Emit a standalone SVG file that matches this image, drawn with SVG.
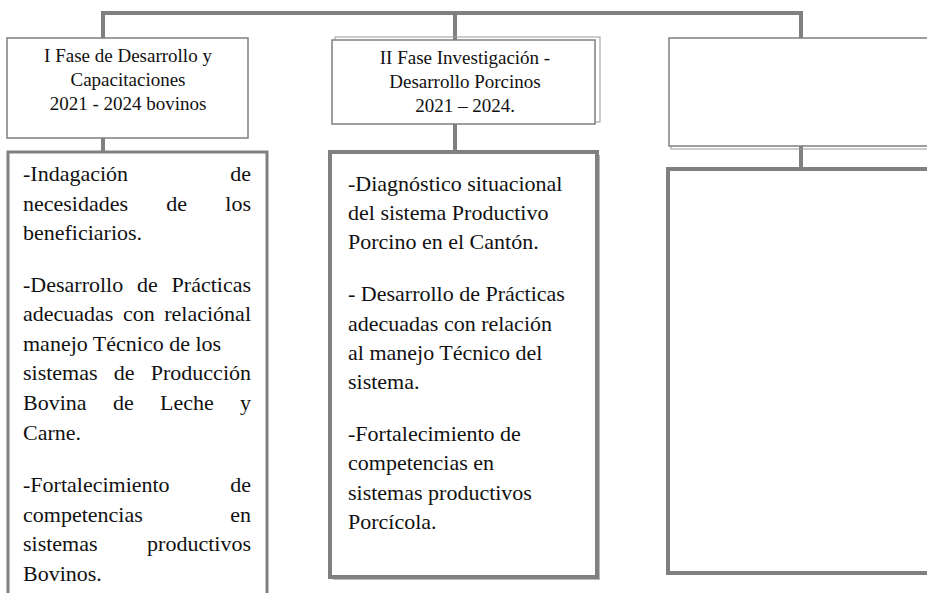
<svg xmlns="http://www.w3.org/2000/svg" width="927" height="593" viewBox="0 0 927 593">
<style>
.conn{stroke:#808080;stroke-width:4;fill:none;stroke-linecap:square}
.thin{fill:#fff;stroke:#7f7f7f;stroke-width:1.5}
.thin2{fill:none;stroke:#9a9a9a;stroke-width:1}
.thick{fill:#fff;stroke:#808080;stroke-width:4}
.hd{font-family:"Liberation Serif","Times New Roman",serif;font-size:19px;fill:#111;text-anchor:middle}
.bd{font-family:"Liberation Serif","Times New Roman",serif;font-size:22px;fill:#111}
.r{text-anchor:end}
</style>
<rect width="927" height="593" fill="#fff"/>
<g id="connectors">
<polyline class="conn" points="103,38 103,13 801,13 801,38"/>
<line class="conn" x1="455" y1="13" x2="455" y2="40"/>
<line class="conn" x1="103" y1="138" x2="103" y2="152"/>
<line class="conn" x1="455" y1="124" x2="455" y2="152"/>
<line class="conn" x1="801" y1="148" x2="801" y2="168"/>
</g>
<g id="header1">
<rect class="thin" x="7" y="38" width="241" height="100"/>
<text class="hd" x="128" y="62">I Fase de Desarrollo y</text>
<text class="hd" x="128" y="86">Capacitaciones</text>
<text class="hd" x="128" y="110">2021 - 2024 bovinos</text>
</g>
<g id="header2">
<rect class="thin2" x="335" y="37" width="265" height="85"/>
<rect class="thin" x="332" y="40" width="263" height="84"/>
<text class="hd" x="465" y="64">II Fase Investigación -</text>
<text class="hd" x="465" y="88">Desarrollo Porcinos</text>
<text class="hd" x="465" y="112">2021 – 2024.</text>
</g>
<g id="header3">
<rect class="thin2" x="671" y="41" width="270" height="108"/>
<rect class="thin" x="669" y="38" width="270" height="108"/>
</g>
<g id="content1">
<rect class="thick" x="8" y="152" width="259" height="460" style="stroke-width:3"/>
<text class="bd" x="23" y="181">-Indagación</text><text class="bd r" x="251" y="181">de</text>
<text class="bd" x="23" y="211">necesidades</text><text class="bd" x="166.3" y="211">de</text><text class="bd r" x="251" y="211">los</text>
<text class="bd" x="23" y="240">beneficiarios.</text>
<text class="bd" x="23" y="292">-Desarrollo</text><text class="bd" x="137" y="292">de</text><text class="bd r" x="251" y="292">Prácticas</text>
<text class="bd" x="23" y="321">adecuadas</text><text class="bd" x="122.9" y="321">con</text><text class="bd r" x="251" y="321">relaciónal</text>
<text class="bd" x="23" y="351">manejo Técnico de los</text>
<text class="bd" x="23" y="380">sistemas</text><text class="bd" x="113.8" y="380">de</text><text class="bd r" x="251" y="380">Producción</text>
<text class="bd" x="23" y="410">Bovina</text><text class="bd" x="112.9" y="410">de</text><text class="bd" x="160" y="410">Leche</text><text class="bd r" x="251" y="410">y</text>
<text class="bd" x="23" y="440">Carne.</text>
<text class="bd" x="23" y="492">-Fortalecimiento</text><text class="bd r" x="251" y="492">de</text>
<text class="bd" x="23" y="522">competencias</text><text class="bd r" x="251" y="522">en</text>
<text class="bd" x="23" y="551">sistemas</text><text class="bd r" x="251" y="551">productivos</text>
<text class="bd" x="23" y="581">Bovinos.</text>
</g>
<g id="content2">
<rect x="333" y="155" width="267" height="425" fill="#bbb"/>
<rect class="thick" x="330" y="152" width="267" height="425"/>
<text class="bd" x="348" y="191">-Diagnóstico situacional</text>
<text class="bd" x="348" y="220">del sistema Productivo</text>
<text class="bd" x="348" y="249">Porcino en el Cantón.</text>
<text class="bd" x="348" y="301">- Desarrollo de Prácticas</text>
<text class="bd" x="348" y="331">adecuadas con relación</text>
<text class="bd" x="348" y="360">al manejo Técnico del</text>
<text class="bd" x="348" y="389">sistema.</text>
<text class="bd" x="348" y="441">-Fortalecimiento de</text>
<text class="bd" x="348" y="470">competencias en</text>
<text class="bd" x="348" y="500">sistemas productivos</text>
<text class="bd" x="348" y="529">Porcícola.</text>
</g>
<g id="content3">
<rect class="thick" x="668" y="169" width="280" height="404"/>
</g>
</svg>
